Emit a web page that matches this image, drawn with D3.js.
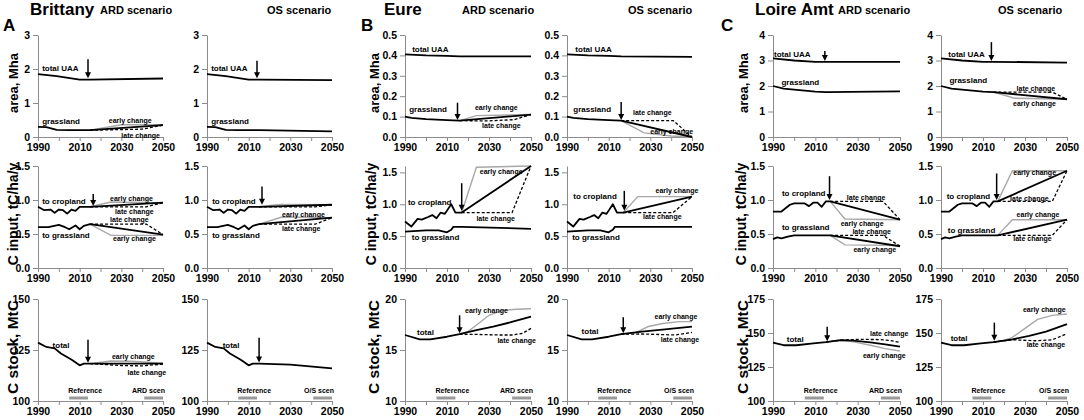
<!DOCTYPE html>
<html>
<head>
<meta charset="utf-8">
<script src="https://cdn.jsdelivr.net/npm/d3@7.9.0/dist/d3.min.js"></script>
<style>
  body { margin: 0; background: #fff; }
  svg { font-family: "Liberation Sans", Arial, sans-serif; font-weight: bold; }
  .axis path, .axis line { stroke: #8c8c8c; }
  .axis text { font-size: 10.5px; font-weight: bold; fill: #000; font-family: "Liberation Sans", Arial, sans-serif; }
</style>
</head>
<body>
<svg id="chart" width="1084" height="420"></svg>
<script>
// ---------- data: [year, value] ----------
// Brittany
const brUaaHist = [[1990, 1.85], [1999, 1.79], [2010, 1.69], [2015, 1.69]];
const brUaaArd = [[2015, 1.69], [2050, 1.72]];
const brUaaOs = [[2015, 1.69], [2050, 1.67]];
const brGrassHist = [[1990, 0.30], [1994, 0.29], [1999, 0.21], [2005, 0.20], [2015, 0.20]];
const brGrassArd = [[2015, 0.20], [2050, 0.35]];
const brGrassArdEarly = [[2015, 0.20], [2030, 0.36], [2050, 0.36]];
const brGrassArdLate = [[2015, 0.20], [2040, 0.23], [2050, 0.35]];
const brGrassOs = [[2015, 0.20], [2050, 0.165]];

const brCropHist = [[1990, 0.90], [1993, 0.85], [1996, 0.86], [1998, 0.81], [2000, 0.86], [2002, 0.85],
  [2004, 0.80], [2006, 0.86], [2008, 0.84], [2010, 0.90], [2015, 0.90]];
const brCropArd = [[2015, 0.90], [2050, 0.96]];
const brCropArdEarly = [[2015, 0.90], [2025, 0.97], [2050, 0.96]];
const brCropArdLate = [[2015, 0.90], [2042, 0.90], [2050, 0.96]];
const brCropOs = [[2015, 0.90], [2050, 0.93]];
const brCropOsEarly = [[2015, 0.90], [2025, 0.935], [2050, 0.93]];
const brCropOsLate = [[2015, 0.90], [2042, 0.90], [2050, 0.93]];
const brGrInHist = [[1990, 0.60], [1995, 0.60], [2000, 0.635], [2003, 0.60], [2005, 0.57], [2008, 0.625],
  [2010, 0.57], [2012, 0.62], [2015, 0.645]];
const brGrInArd = [[2015, 0.645], [2050, 0.49]];
const brGrInArdEarly = [[2015, 0.645], [2025, 0.48], [2050, 0.48]];
const brGrInArdLate = [[2015, 0.645], [2042, 0.645], [2050, 0.49]];
const brGrInOs = [[2015, 0.645], [2050, 0.74]];
const brGrInOsEarly = [[2015, 0.645], [2026, 0.75], [2050, 0.74]];
const brGrInOsLate = [[2015, 0.645], [2042, 0.645], [2050, 0.74]];

const brStockHist = [[1990, 128.6], [1994, 126.5], [1998, 125.8], [2001, 123.3], [2006, 120.3],
  [2010, 117.5], [2012, 118.3], [2015, 118.3]];
const brStockArd = [[2015, 118.3], [2050, 118.3]];
const brStockArdEarly = [[2015, 118.3], [2025, 119.6], [2035, 119.5], [2050, 118.5]];
const brStockArdLate = [[2015, 118.3], [2030, 117.4], [2040, 117.2], [2050, 118.1]];
const brStockOs = [[2015, 118.3], [2030, 117.8], [2050, 116.0]];

// Eure
const euUaaHist = [[1990, 0.405], [2000, 0.400], [2010, 0.398], [2016, 0.395]];
const euUaaArd = [[2016, 0.395], [2050, 0.395]];
const euUaaOs = [[2016, 0.395], [2050, 0.393]];
const euGrassHist = [[1990, 0.100], [1993, 0.094], [2000, 0.088], [2010, 0.083], [2016, 0.080]];
const euGrassArd = [[2016, 0.080], [2050, 0.110]];
const euGrassArdEarly = [[2016, 0.080], [2024, 0.105], [2050, 0.110]];
const euGrassArdLate = [[2016, 0.080], [2030, 0.079], [2042, 0.085], [2050, 0.110]];
const euGrassOs = [[2016, 0.080], [2050, 0.0]];
const euGrassOsEarly = [[2016, 0.080], [2027, 0.020], [2040, 0.005], [2050, 0.0]];
const euGrassOsLate = [[2016, 0.080], [2041, 0.080], [2050, 0.0]];

const euCropHist = [[1990, 0.73], [1993, 0.65], [1996, 0.77], [1998, 0.76], [2001, 0.80], [2003, 0.83],
  [2005, 0.78], [2007, 0.87], [2009, 0.85], [2010, 0.90], [2012, 1.00], [2014, 0.87], [2017, 0.87]];
const euCropArd = [[2017, 0.87], [2050, 1.60]];
const euCropArdEarly = [[2017, 0.87], [2024, 1.58], [2050, 1.60]];
const euCropArdLate = [[2017, 0.87], [2041, 0.87], [2050, 1.60]];
const euCropOs = [[2017, 0.87], [2050, 1.12]];
const euCropOsEarly = [[2017, 0.87], [2024, 1.12], [2050, 1.12]];
const euCropOsLate = [[2017, 0.87], [2041, 0.87], [2050, 1.12]];
const euGrInHist = [[1990, 0.57], [2000, 0.59], [2006, 0.59], [2010, 0.56], [2012, 0.60], [2013, 0.645], [2017, 0.645]];
const euGrInArd = [[2017, 0.645], [2050, 0.615]];
const euGrInOs = [[2017, 0.645], [2050, 0.645]];

const euStockHist = [[1990, 16.47], [1997, 16.05], [2002, 16.05], [2010, 16.3], [2016, 16.55]];
const euStockArd = [[2016, 16.55], [2024, 16.96], [2032, 17.3], [2040, 17.7], [2050, 18.27]];
const euStockArdEarly = [[2016, 16.55], [2020, 16.8], [2025, 17.6], [2030, 18.4], [2036, 18.86], [2043, 19.0], [2050, 19.05]];
const euStockArdLate = [[2016, 16.55], [2024, 16.53], [2035, 16.47], [2041, 16.47], [2046, 16.63], [2050, 17.12]];
const euStockOs = [[2016, 16.55], [2026, 16.8], [2037, 17.03], [2050, 17.3]];
const euStockOsEarly = [[2016, 16.55], [2023, 16.7], [2029, 17.3], [2036, 17.6], [2044, 17.78], [2050, 17.78]];
const euStockOsLate = [[2016, 16.55], [2026, 16.57], [2042, 16.47], [2050, 16.73]];

// Loire Amt
const loUaaHist = [[1990, 3.08], [2000, 3.0], [2010, 2.95], [2015, 2.95]];
const loUaaArd = [[2015, 2.95], [2050, 2.95]];
const loUaaOs = [[2015, 2.95], [2050, 2.92]];
const loGrassHist = [[1990, 2.0], [1995, 1.9], [2010, 1.78], [2015, 1.76]];
const loGrassArd = [[2015, 1.76], [2050, 1.79]];
const loGrassOs = [[2015, 1.76], [2050, 1.48]];
const loGrassOsEarly = [[2015, 1.76], [2025, 1.52], [2050, 1.48]];
const loGrassOsLate = [[2015, 1.76], [2043, 1.76], [2050, 1.48]];

const loCropHist = [[1990, 0.83], [1994, 0.83], [1998, 0.93], [2000, 0.95], [2005, 0.95], [2007, 0.91],
  [2009, 0.96], [2011, 0.96], [2013, 0.90], [2015, 0.98], [2017, 0.98]];
const loCropArd = [[2017, 0.98], [2050, 0.71]];
const loCropArdEarly = [[2017, 0.98], [2024, 0.72], [2050, 0.71]];
const loCropArdLate = [[2017, 0.98], [2042, 0.98], [2050, 0.71]];
const loCropOs = [[2017, 0.98], [2050, 1.43]];
const loCropOsEarly = [[2017, 0.98], [2024, 1.43], [2050, 1.43]];
const loCropOsLate = [[2017, 0.98], [2043, 0.98], [2050, 1.43]];
const loGrInHist = [[1990, 0.425], [1992, 0.45], [1994, 0.435], [1997, 0.46], [2000, 0.48], [2017, 0.48]];
const loGrInArd = [[2017, 0.48], [2050, 0.32]];
const loGrInArdEarly = [[2017, 0.48], [2024, 0.34], [2050, 0.33]];
const loGrInArdLate = [[2017, 0.48], [2042, 0.48], [2050, 0.32]];
const loGrInOs = [[2017, 0.48], [2050, 0.71]];
const loGrInOsEarly = [[2017, 0.48], [2024, 0.71], [2050, 0.71]];
const loGrInOsLate = [[2017, 0.48], [2043, 0.48], [2050, 0.71]];

const loStockHist = [[1990, 143.0], [1995, 141.0], [2001, 141.0], [2009, 142.4], [2015, 143.3]];
const loStockArd = [[2015, 143.3], [2022, 144.8], [2028, 144.4], [2036, 143.1], [2043, 141.7], [2050, 140.0]];
const loStockArdEarly = [[2015, 143.3], [2022, 144.6], [2028, 143.5], [2036, 141.0], [2043, 138.5], [2050, 136.8]];
const loStockArdLate = [[2015, 143.3], [2022, 144.8], [2030, 145.3], [2040, 145.2], [2045, 144.6], [2050, 143.0]];
const loStockOs = [[2015, 143.3], [2024, 145.3], [2032, 147.8], [2040, 151.0], [2050, 156.5]];
const loStockOsEarly = [[2015, 143.3], [2020, 144.5], [2024, 146.8], [2030, 153.4], [2036, 160.0], [2043, 163.0], [2050, 164.0]];
const loStockOsLate = [[2015, 143.3], [2024, 145.0], [2035, 144.3], [2043, 145.0], [2050, 149.5]];

// periods shown as grey bars in the C stock panels
const referencePeriod = [2005, 2014];
const scenarioPeriod = [2041, 2050];

// axis ticks
const xTicks = [1990, 2000, 2010, 2020, 2030, 2040, 2050];
const xLabelled = [1990, 2010, 2030, 2050];
const rowTitles = ['area, Mha', 'C input, tC/ha/y', 'C stock, MtC'];
const regionNames = ['Brittany', 'Eure', 'Loire Amt'];
const regionLetters = ['A', 'B', 'C'];
const yDomains = [
  [[0, 3], [0, 1.5], [100, 150]],
  [[0, 0.5], [0, 1.6], [10, 20]],
  [[0, 4], [0, 1.5], [100, 175]]
];
const yTicks = [
  [[0, 1, 2, 3], [0, 0.5, 1, 1.5], [100, 125, 150]],
  [[0, 0.1, 0.2, 0.3, 0.4, 0.5], [0, 0.5, 1, 1.5], [10, 15, 20]],
  [[0, 1, 2, 3, 4], [0, 0.5, 1, 1.5], [100, 125, 150, 175]]
];
const yFormats = [['d', '.1f', 'd'], ['.1f', '.1f', 'd'], ['d', '.1f', 'd']];

// ---------- layout ----------
const rows = [{ top: 35, bottom: 137, fs: 13 }, { top: 166, bottom: 268, fs: 14 }, { top: 299, bottom: 401, fs: 15.5 }];
const regions = [
  { letterX: 3, nameX: 30, ardX: 100, osX: 267, titleX: [13, 13, 13], cols: [[38, 163], [207, 332]] },
  { letterX: 361, nameX: 384, ardX: 462, osX: 628, titleX: [374, 371, 374], cols: [[405, 531], [567, 692]] },
  { letterX: 721, nameX: 755, ardX: 838, osX: 998, titleX: [743, 741, 743], cols: [[773, 900], [941, 1067]] }
];

const full = (h, e) => h.concat(e.slice(1));

// panel contents: r = region, row, s = 0 ARD / 1 OS
// labels: [text, year, value, small]
const panels = [
  // Brittany
  { r: 0, row: 0, s: 0, base: [full(brUaaHist, brUaaArd), full(brGrassHist, brGrassArd)],
    early: [brGrassArdEarly], late: [brGrassArdLate], arrow: [2014, 2.29, 1.73],
    labels: [['total UAA', 1992, 1.95], ['grassland', 1992, 0.38], ['early change', 2024, 0.41, 1], ['late change', 2030, -0.03, 1]] },
  { r: 0, row: 0, s: 1, base: [full(brUaaHist, brUaaOs), full(brGrassHist, brGrassOs)],
    early: [], late: [], arrow: [2014, 2.24, 1.73],
    labels: [['total UAA', 1992, 1.95], ['grassland', 1992, 0.38]] },
  { r: 0, row: 1, s: 0, base: [full(brCropHist, brCropArd), full(brGrInHist, brGrInArd)],
    early: [brCropArdEarly, brGrInArdEarly], late: [brCropArdLate, brGrInArdLate], arrow: [2016.5, 1.09, 0.91],
    labels: [['to cropland', 1992, 0.94], ['to grassland', 1992, 0.44], ['early change', 2024.6, 0.985, 1],
      ['late change', 2027, 0.79, 1], ['late change', 2024.6, 0.67, 1], ['early change', 2026, 0.39, 1]] },
  { r: 0, row: 1, s: 1, base: [full(brCropHist, brCropOs), full(brGrInHist, brGrInOs)],
    early: [brCropOsEarly, brGrInOsEarly], late: [brCropOsLate, brGrInOsLate], arrow: [2016.4, 1.2, 0.93],
    labels: [['to cropland', 1992.5, 0.94], ['to grassland', 1992.5, 0.44], ['early change', 2026, 0.755, 1], ['late change', 2026, 0.55, 1]] },
  { r: 0, row: 2, s: 0, base: [full(brStockHist, brStockArd)],
    early: [brStockArdEarly], late: [brStockArdLate], arrow: [2014, 130, 118.8],
    labels: [['total', 1997, 126.1], ['early change', 2025.5, 120.4, 1], ['late change', 2033, 112.7, 1]] },
  { r: 0, row: 2, s: 1, base: [full(brStockHist, brStockOs)],
    early: [], late: [], arrow: [2015, 131, 118.9],
    labels: [['total', 1997.5, 126.1]] },
  // Eure
  { r: 1, row: 0, s: 0, base: [full(euUaaHist, euUaaArd), full(euGrassHist, euGrassArd)],
    early: [euGrassArdEarly], late: [euGrassArdLate], arrow: [2015, 0.168, 0.083],
    labels: [['total UAA', 1993.4, 0.417], ['grassland', 1992, 0.124], ['early change', 2023.3, 0.132, 1], ['late change', 2026.7, 0.042, 1]] },
  { r: 1, row: 0, s: 1, base: [full(euUaaHist, euUaaOs), full(euGrassHist, euGrassOs)],
    early: [euGrassOsEarly], late: [euGrassOsLate], arrow: [2016, 0.171, 0.083],
    labels: [['total UAA', 1994, 0.417], ['grassland', 1993, 0.124], ['late change', 2021.7, 0.106, 1], ['early change', 2030, 0.013, 1]] },
  { r: 1, row: 1, s: 0, base: [full(euCropHist, euCropArd), full(euGrInHist, euGrInArd)],
    early: [euCropArdEarly], late: [euCropArdLate], arrow: [2017, 1.33, 0.9],
    labels: [['to cropland', 1991.4, 0.99], ['to grassland', 1993.2, 0.44], ['early change', 2025.6, 1.475, 1], ['late change', 2024, 0.74, 1]] },
  { r: 1, row: 1, s: 1, base: [full(euCropHist, euCropOs), full(euGrInHist, euGrInOs)],
    early: [euCropOsEarly], late: [euCropOsLate], arrow: [2017.5, 1.21, 0.9],
    labels: [['to cropland', 1993, 1.08], ['to grassland', 1992.5, 0.44], ['early change', 2032.5, 1.18, 1], ['late change', 2026.5, 0.77, 1]] },
  { r: 1, row: 2, s: 0, base: [full(euStockHist, euStockArd)],
    early: [euStockArdEarly], late: [euStockArdLate], arrow: [2016, 18.4, 16.65],
    labels: [['total', 1995.7, 16.5], ['early change', 2018.6, 18.66, 1], ['late change', 2034, 15.65, 1]] },
  { r: 1, row: 2, s: 1, base: [full(euStockHist, euStockOs)],
    early: [euStockOsEarly], late: [euStockOsLate], arrow: [2017, 18.2, 16.65],
    labels: [['total', 1997, 16.6], ['early change', 2032, 18.0, 1], ['late change', 2035, 15.8, 1]] },
  // Loire Amt
  { r: 2, row: 0, s: 0, base: [full(loUaaHist, loUaaArd), full(loGrassHist, loGrassArd)],
    early: [], late: [], arrow: [2014.5, 3.37, 2.98],
    labels: [['total UAA', 1990.5, 3.12], ['grassland', 1994, 2.02]] },
  { r: 2, row: 0, s: 1, base: [full(loUaaHist, loUaaOs), full(loGrassHist, loGrassOs)],
    early: [loGrassOsEarly], late: [loGrassOsLate], arrow: [2014, 3.72, 2.98],
    labels: [['total UAA', 1993.5, 3.14], ['grassland', 1994, 2.1], ['late change', 2026, 1.81, 1], ['early change', 2024.3, 1.21, 1]] },
  { r: 2, row: 1, s: 0, base: [full(loCropHist, loCropArd), full(loGrInHist, loGrInArd)],
    early: [loCropArdEarly, loGrInArdEarly], late: [loCropArdLate, loGrInArdLate], arrow: [2016.7, 1.35, 1.0],
    labels: [['to cropland', 1994.2, 1.06], ['late change', 2024.9, 1.0, 1], ['early change', 2022, 0.62, 1],
      ['to grassland', 1994.2, 0.56], ['late change', 2027.5, 0.495, 1], ['early change', 2028, 0.24, 1]] },
  { r: 2, row: 1, s: 1, base: [full(loCropHist, loCropOs), full(loGrInHist, loGrInOs)],
    early: [loCropOsEarly, loGrInOsEarly], late: [loCropOsLate, loGrInOsLate], arrow: [2016.5, 1.39, 1.0],
    labels: [['to cropland', 1992.7, 1.01], ['early change', 2024.4, 1.37, 1], ['late change', 2022.9, 0.985, 1],
      ['to grassland', 1993.2, 0.51], ['early change', 2026, 0.745, 1], ['late change', 2024.4, 0.40, 1]] },
  { r: 2, row: 2, s: 0, base: [full(loStockHist, loStockArd)],
    early: [loStockArdEarly], late: [loStockArdLate], arrow: [2015.6, 154.6, 144.0],
    labels: [['total', 1996.5, 143.6], ['late change', 2035.8, 147.6, 1], ['early change', 2032.5, 131.4, 1]] },
  { r: 2, row: 2, s: 1, base: [full(loStockHist, loStockOs)],
    early: [loStockOsEarly], late: [loStockOsLate], arrow: [2015.4, 157.6, 144.3],
    labels: [['total', 1994.6, 143.8], ['early change', 2029, 165.2, 1], ['late change', 2030.8, 140, 1]] }
];

// ---------- drawing ----------
const svg = d3.select('#chart');

// headers and row titles
regions.forEach((reg, i) => {
  svg.append('text').attr('x', reg.letterX).attr('y', 30.5).attr('font-size', 17).text(regionLetters[i]);
  svg.append('text').attr('x', reg.nameX).attr('y', 15).attr('font-size', 17).text(regionNames[i]);
  svg.append('text').attr('x', reg.ardX).attr('y', 14).attr('font-size', 11).text('ARD scenario');
  svg.append('text').attr('x', reg.osX).attr('y', 14).attr('font-size', 11).text('OS scenario');
  rows.forEach((row, j) => {
    svg.append('text')
      .attr('transform', `translate(${reg.titleX[j]},${(row.top + row.bottom) / 2 - 3}) rotate(-90)`)
      .attr('text-anchor', 'middle')
      .attr('dy', '0.35em')
      .attr('font-size', row.fs)
      .text(rowTitles[j]);
  });
});

panels.forEach((p) => {
  const reg = regions[p.r];
  const row = rows[p.row];
  const col = reg.cols[p.s];

  let x = d3.scaleLinear().domain([1990, 2050]).range(col);
  let y = d3.scaleLinear().domain(yDomains[p.r][p.row]).range([row.bottom, row.top]);

  let g = svg.append('g');

  g.append('g')
    .attr('class', 'axis')
    .attr('transform', `translate(0,${row.bottom})`)
    .call(d3.axisBottom(x).tickValues(xTicks).tickSize(4).tickSizeOuter(0)
      .tickFormat((d) => (xLabelled.includes(d) ? d : '')));

  g.append('g')
    .attr('class', 'axis')
    .attr('transform', `translate(${col[0]},0)`)
    .call(d3.axisLeft(y).tickValues(yTicks[p.r][p.row]).tickSize(5).tickPadding(3).tickSizeOuter(0)
      .tickFormat(d3.format(yFormats[p.r][p.row])));

  let line = d3.line().x((d) => x(d[0])).y((d) => y(d[1]));

  g.selectAll('path.early')
    .data(p.early)
    .enter()
    .append('path')
    .attr('class', 'early')
    .attr('d', line)
    .attr('fill', 'none')
    .attr('stroke', '#a8a8a8')
    .attr('stroke-width', 1.4);

  g.selectAll('path.late')
    .data(p.late)
    .enter()
    .append('path')
    .attr('class', 'late')
    .attr('d', line)
    .attr('fill', 'none')
    .attr('stroke', '#000')
    .attr('stroke-width', 1.3)
    .attr('stroke-dasharray', '3,2');

  g.selectAll('path.base')
    .data(p.base)
    .enter()
    .append('path')
    .attr('class', 'base')
    .attr('d', line)
    .attr('fill', 'none')
    .attr('stroke', '#000')
    .attr('stroke-width', 1.8)
    .attr('stroke-linejoin', 'round');

  // arrow marking the change point
  let [ay, aFrom, aTo] = p.arrow;
  let ax = x(ay);
  g.append('line')
    .attr('x1', ax).attr('x2', ax)
    .attr('y1', y(aFrom)).attr('y2', y(aTo) - 5)
    .attr('stroke', '#000').attr('stroke-width', 1.5);
  g.append('path')
    .attr('d', `M${ax - 3},${y(aTo) - 6}L${ax + 3},${y(aTo) - 6}L${ax},${y(aTo)}Z`)
    .attr('fill', '#000');

  g.selectAll('text.lab')
    .data(p.labels)
    .enter()
    .append('text')
    .attr('class', 'lab')
    .attr('x', (d) => x(d[1]))
    .attr('y', (d) => y(d[2]))
    .attr('font-size', (d) => (d[3] ? 7 : 8))
    .text((d) => d[0]);

  // reference / scenario period bars on the stock row
  if (p.row === 2) {
    let by = row.bottom - 3;
    g.append('line')
      .attr('x1', x(referencePeriod[0])).attr('x2', x(referencePeriod[1]))
      .attr('y1', by).attr('y2', by)
      .attr('stroke', '#9a9a9a').attr('stroke-width', 3);
    g.append('line')
      .attr('x1', x(scenarioPeriod[0])).attr('x2', x(scenarioPeriod[1]))
      .attr('y1', by).attr('y2', by)
      .attr('stroke', '#9a9a9a').attr('stroke-width', 3);
    g.append('text')
      .attr('x', x(referencePeriod[0]) - 1)
      .attr('y', by - 5)
      .attr('font-size', 7)
      .text('Reference');
    g.append('text')
      .attr('x', x(scenarioPeriod[1]) + 2)
      .attr('y', by - 5)
      .attr('font-size', 7)
      .attr('text-anchor', 'end')
      .text(p.s === 0 ? 'ARD scen' : 'O/S scen');
  }
});
</script>
</body>
</html>
